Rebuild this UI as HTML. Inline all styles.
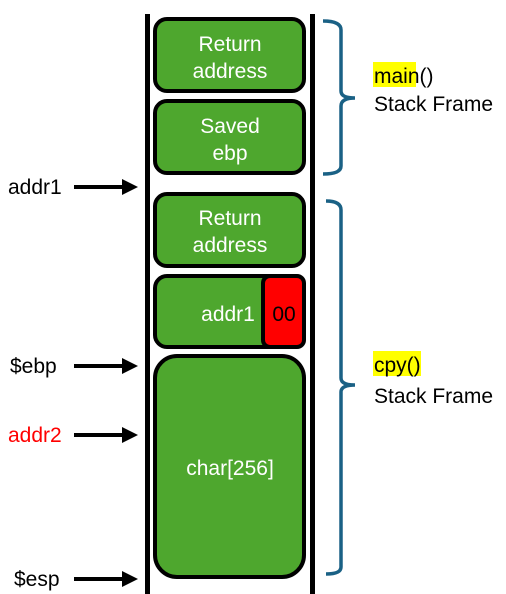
<!DOCTYPE html>
<html><head><style>
html,body{margin:0;padding:0;background:#fff;}
svg{display:block;}
text{font-family:"Liberation Sans",sans-serif;font-size:21px;}
</style></head><body>
<svg width="506" height="594" viewBox="0 0 506 594" xmlns="http://www.w3.org/2000/svg">
<defs><marker id="ah" markerWidth="4" markerHeight="4" refX="3" refY="2" orient="auto" markerUnits="strokeWidth"><path d="M0,0 L4,2 L0,4 z" fill="#000"/></marker></defs>
<rect x="145" y="14" width="5" height="580" fill="#000"/>
<rect x="310" y="14" width="5" height="580" fill="#000"/>
<g fill="#4ea72e" stroke="#000" stroke-width="4">
<rect x="155" y="19" width="149" height="72" rx="12"/>
<rect x="155" y="101" width="149" height="72" rx="12"/>
<rect x="155" y="194" width="149" height="72" rx="12"/>
<rect x="155" y="276" width="149" height="71" rx="12"/>
<rect x="155" y="356" width="149" height="221" rx="22"/>
</g>
<rect x="263" y="276" width="41" height="71" rx="7" fill="#ff0000" stroke="#000" stroke-width="4"/>
<g fill="#fff" text-anchor="middle">
<text x="230" y="51">Return</text><text x="230" y="78">address</text>
<text x="230" y="133">Saved</text><text x="230" y="160">ebp</text>
<text x="230" y="225">Return</text><text x="230" y="252">address</text>
<text x="228" y="321">addr1</text>
<text x="230" y="475">char[256]</text>
</g>
<text x="284" y="321" text-anchor="middle" fill="#000">00</text>
<g stroke="#000" stroke-width="4" marker-end="url(#ah)">
<line x1="74" y1="187" x2="134" y2="187"/>
<line x1="74" y1="366" x2="134" y2="366"/>
<line x1="74" y1="435" x2="134" y2="435"/>
<line x1="74" y1="579" x2="134" y2="579"/>
</g>
<text x="8" y="194">addr1</text>
<text x="10" y="373">$ebp</text>
<text x="8" y="442" fill="#ff0000">addr2</text>
<text x="14" y="586">$esp</text>
<g fill="none" stroke="#1a6185" stroke-width="3.5">
<path d="M323,21 Q341,21 341,30 L341,91 Q341,98 355,98 Q341,98 341,106 L341,166 Q341,174 323,174"/>
<path d="M326,201 Q341,201 341,210 L341,378 Q341,385 355,385 Q341,385 341,392 L341,567 Q341,574 326,574"/>
</g>
<rect x="373" y="62" width="43" height="25" fill="#ffff00"/>
<text x="374" y="83">main()</text>
<text x="374" y="111">Stack Frame</text>
<rect x="373" y="351" width="48" height="25" fill="#ffff00"/>
<text x="374" y="372">cpy()</text>
<text x="374" y="403">Stack Frame</text>
</svg>
</body></html>
